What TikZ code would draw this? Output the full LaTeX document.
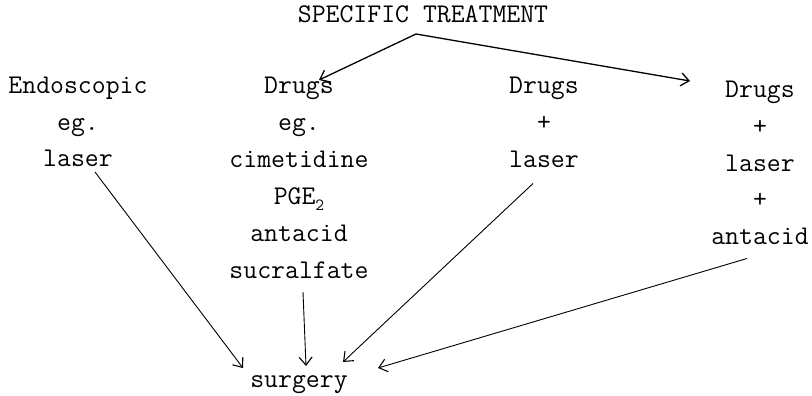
\documentclass[tikz,border=0pt]{standalone}
\usetikzlibrary{arrows.meta,calc}
\begin{document}
\begin{tikzpicture}[x=1pt,y=-1pt,
  lbl/.style={anchor=base,inner sep=0pt,font=\fontsize{27}{32}\selectfont\ttfamily},
  arr/.style={line width=0.9pt,-{Straight Barb[length=8pt,width=13pt,line width=1.1pt]}},
  tarr/.style={line width=1.3pt,-{Straight Barb[length=8pt,width=13pt,line width=1.3pt]}}]
\useasboundingbox[fill=white] (0,0) rectangle (812,396);
% title
\node[lbl] (title) at (423,23) {SPECIFIC TREATMENT};
% column 1
\node[lbl] (c1a) at (78,93) {Endoscopic};
\node[lbl] (c1b) at (78,130) {eg.};
\node[lbl] (c1c) at (78,166) {laser};
% column 2
\node[lbl] (c2a) at (299,94) {Drugs};
\node[lbl] (c2b) at (299,130.8) {eg.};
\node[lbl] (c2c) at (299,167.6) {cimetidine};
\node[lbl] (c2d) at (299,204.4) {PGE\raisebox{-0.22em}{\fontsize{17}{17}\selectfont 2}};
\node[lbl] (c2e) at (299,241.2) {antacid};
\node[lbl] (c2f) at (299,278) {sucralfate};
% column 3
\node[lbl] (c3a) at (544,94) {Drugs};
\node[lbl] (c3b) at (544,131) {+};
\node[lbl] (c3c) at (544,167.5) {laser};
% column 4
\node[lbl] (c4a) at (760,98) {Drugs};
\node[lbl] (c4b) at (760,134.5) {+};
\node[lbl] (c4c) at (760,171) {laser};
\node[lbl] (c4d) at (760,207.5) {+};
\node[lbl] (c4e) at (760,244.5) {antacid};
% bottom
\node[lbl] (surg) at (299,387) {surgery};
% connectors
\coordinate (apex) at ([shift={(-7,11)}]title.base);
\draw[tarr] (apex) -- ([shift={(20,-14)}]c2a.base);
\draw[tarr] (apex) -- ([shift={(-70,-17)}]c4a.base);
\draw[arr] ([shift={(17,6)}]c1c.base) -- ([shift={(-56,-19)}]surg.base);
\draw[arr] ([shift={(4,14)}]c2f.base) -- ([shift={(7,-21)}]surg.base);
\draw[arr] ([shift={(-11,16)}]c3c.base) -- ([shift={(44,-25)}]surg.base);
\draw[arr] ([shift={(-13,14)}]c4e.base) -- ([shift={(79,-19)}]surg.base);
\end{tikzpicture}
\end{document}
